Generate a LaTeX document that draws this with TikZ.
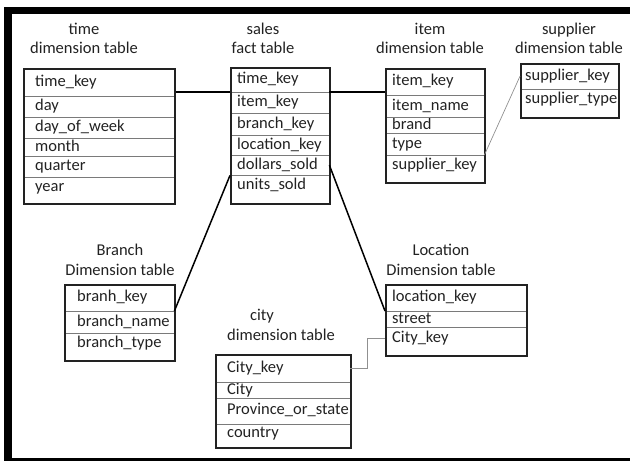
\documentclass[tikz,border=0pt]{standalone}
\usepackage{fontspec}
\setmainfont{Carlito}
\usetikzlibrary{calc}
\definecolor{ink}{HTML}{222222}
\definecolor{sep}{HTML}{7A7A7A}
\definecolor{thin}{HTML}{909090}
\tikzset{
  cell/.style={anchor=north west, inner ysep=0pt,
    text height=12pt, text depth=4pt, align=left, text=ink,
    font=\fontsize{16.5}{19}\selectfont},
  sepline/.style={draw=sep, line width=0.8pt},
  frame/.style={draw=ink, line width=1.6pt, anchor=north west, inner sep=0pt},
  title/.style={align=center, text=ink, font=\fontsize{16.5}{19.5}\selectfont},
  link/.style={draw=black, line width=1.5pt},
  thinlink/.style={draw=thin, line width=0.7pt},
  bar/.style={fill=black, draw=none}
}
% \mkrow{name}{left}{top}{width}{height}{offset}{text}
\newcommand{\mkrow}[7]{%
  \node[cell, minimum width=#4pt, minimum height=#5pt, inner xsep=#6pt,
        text width=#4pt-2*#6pt] (#1) at (#2,#3) {#7};}
\newcommand{\mkframe}[5]{%
  \node[frame, minimum width=#4pt-#2pt, minimum height=#5pt-#3pt] (#1) at (#2,#3) {};}
\newcommand{\rowsep}[1]{\draw[sepline] (#1.south west) -- (#1.south east);}
\begin{document}
\begin{tikzpicture}[x=1pt,y=-1pt]
\useasboundingbox (0,0) rectangle (630,462);
% page frame
\fill[bar] (4,7) rectangle (630,14);
\fill[bar] (4,7) rectangle (12,461);
\fill[bar] (4,458) rectangle (630,461);

% ---------- titles
\node[title] (timeTitle) at (84,38.5) {time\\dimension table};
\node[title] (salesTitle) at (263,38.5) {sales\\fact table};
\node[title] (itemTitle) at (430,38.5) {item\\dimension table};
\node[title] (supTitle) at (569,38.5) {supplier\\dimension table};
\node[title] (branchTitle) at (120,260) {Branch\\Dimension table};
\node[title] (locTitle) at (441,260) {Location\\Dimension table};
\node[title] (cityTitle) at (281,325) {city\hspace*{38pt}\\dimension table};

% ---------- time table
\mkrow{t1}{23}{68}{151}{28}{12}{time\_key}
\mkrow{t2}{23}{96}{151}{21}{12}{day}
\mkrow{t3}{23}{117}{151}{21}{12}{day\_of\_week}
\mkrow{t4}{23}{138}{151}{18}{12}{month}
\mkrow{t5}{23}{156}{151}{21}{12}{quarter}
\mkrow{t6}{23}{177}{151}{21}{12}{year}
\rowsep{t1}\rowsep{t2}\rowsep{t3}\rowsep{t4}\rowsep{t5}
\mkframe{timeF}{23}{68}{174}{203}

% ---------- sales table
\mkrow{s1}{230}{67}{99}{25}{7}{time\_key}
\mkrow{s2}{230}{92}{99}{21}{7}{item\_key}
\mkrow{s3}{230}{113}{99}{22}{7}{branch\_key}
\mkrow{s4}{230}{135}{99}{20}{7}{location\_key}
\mkrow{s5}{230}{155}{99}{20}{7}{dollars\_sold}
\mkrow{s6}{230}{175}{99}{21}{7}{units\_sold}
\rowsep{s1}\rowsep{s2}\rowsep{s3}\rowsep{s4}\rowsep{s5}
\mkframe{salesF}{230}{67}{329}{203}

% ---------- item table
\mkrow{i1}{385}{68}{99}{27}{7}{item\_key}
\mkrow{i2}{385}{95}{99}{22}{7}{item\_name}
\mkrow{i3}{385}{117}{99}{16}{7}{brand}
\mkrow{i4}{385}{133}{99}{22}{7}{type}
\mkrow{i5}{385}{155}{99}{21}{7}{supplier\_key}
\rowsep{i1}\rowsep{i2}\rowsep{i3}\rowsep{i4}
\mkframe{itemF}{385}{68}{484}{182}

% ---------- supplier table
\mkrow{p1}{520}{63}{98}{26}{5}{supplier\_key}
\mkrow{p2}{520}{89}{98}{21}{5}{supplier\_type}
\rowsep{p1}
\mkframe{supF}{520}{63}{618}{117}

% ---------- branch table
\mkrow{b1}{64}{284}{110}{27}{13}{branh\_key}
\mkrow{b2}{64}{311}{110}{22}{13}{branch\_name}
\mkrow{b3}{64}{333}{110}{21}{13}{branch\_type}
\rowsep{b1}\rowsep{b2}
\mkframe{branchF}{64}{284}{174}{360}

% ---------- location table
\mkrow{l1}{385}{284}{141}{27}{7}{location\_key}
\mkrow{l2}{385}{311}{141}{16}{7}{street}
\mkrow{l3}{385}{327}{141}{23}{7}{City\_key}
\rowsep{l1}\rowsep{l2}
\mkframe{locF}{385}{284}{526}{355}

% ---------- city table
\mkrow{c1}{215}{354}{135}{28}{12}{City\_key}
\mkrow{c2}{215}{382}{135}{15}{12}{City}
\mkrow{c3}{215}{397}{135}{27}{12}{Province\_or\_state}
\mkrow{c4}{215}{424}{135}{19}{12}{country}
\rowsep{c1}\rowsep{c2}\rowsep{c3}
\mkframe{cityF}{215}{354}{350}{447}

% ---------- connectors
\draw[link] (timeF.east |- s2.north) -- (s2.north west);
\draw[link] (s2.north east) -- (itemF.west |- s2.north);
\draw[link] (s5.south west) -- (b2.north east);
\draw[link] (s5.east) -- (l2.north west);
\draw[thinlink] (i5.north east) -- (p1.west);
\coordinate (cityMid) at ($(c1.east)!0.5!(l3.west)$);
\draw[thinlink] (c1.east) -| (cityMid) |- (l3.west);
\end{tikzpicture}
\end{document}
